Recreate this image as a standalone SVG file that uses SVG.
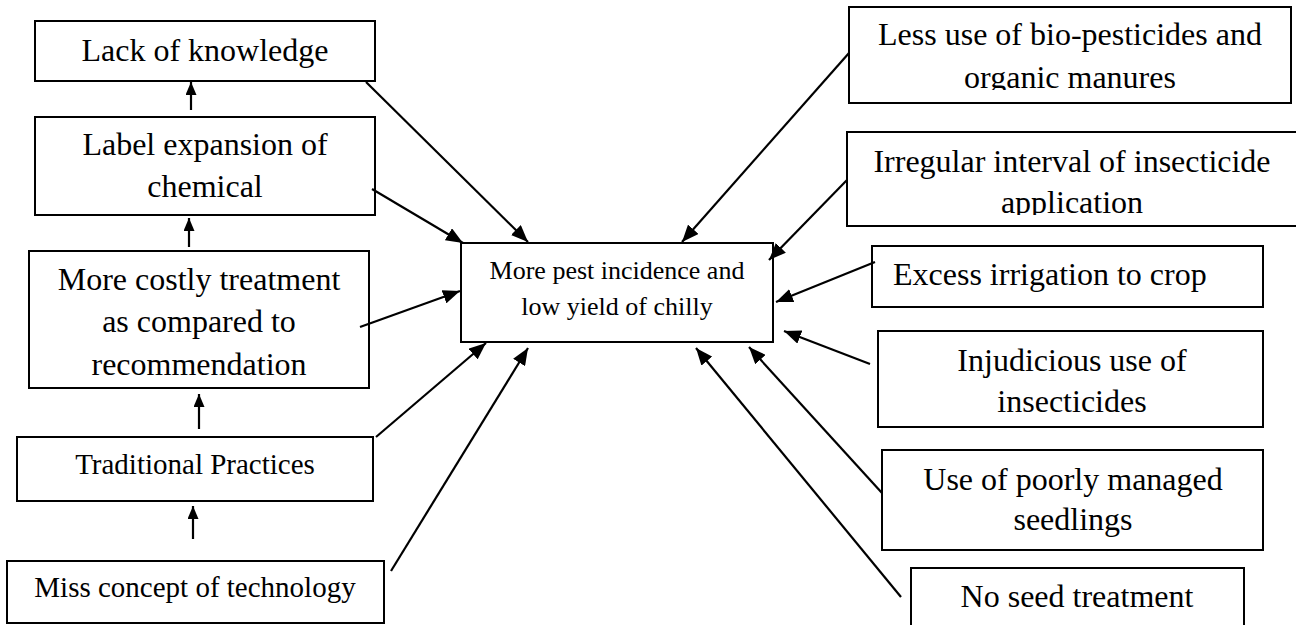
<svg xmlns="http://www.w3.org/2000/svg" width="1296" height="625" viewBox="0 0 1296 625">
<style>
  .box { fill: #fff; stroke: #000; stroke-width: 2; }
  .t { font-family: "Liberation Serif", "Times New Roman", serif; font-size: 32px; fill: #000; text-anchor: middle; }
  .s29 { font-size: 29px; }
  .s26 { font-size: 26px; }
  .c line { stroke: #000; stroke-width: 2.2; marker-end: url(#ah); }
  .c line.up { marker-end: url(#ahs); }
</style>
<defs>
  <marker id="ah" markerUnits="userSpaceOnUse" markerWidth="17" markerHeight="14" viewBox="0 0 17 14" refX="17" refY="7" orient="auto">
    <path d="M0,0 L17,7 L0,14 z" fill="#000"/>
  </marker>
  <marker id="ahs" markerUnits="userSpaceOnUse" markerWidth="13" markerHeight="11" viewBox="0 0 13 11" refX="13" refY="5.5" orient="auto">
    <path d="M0,0 L13,5.5 L0,11 z" fill="#000"/>
  </marker>
  <clipPath id="clip1"><rect x="849" y="7" width="442" height="83"/></clipPath>
  <clipPath id="clip2"><rect x="847" y="132" width="460" height="83"/></clipPath>
</defs>
<rect width="1296" height="625" fill="#fff"/>

<g id="n-lack">
  <rect class="box" x="35" y="21" width="340" height="60"/>
  <text class="t" x="205" y="61">Lack of knowledge</text>
</g>
<g id="n-label">
  <rect class="box" x="35" y="117" width="340" height="98"/>
  <text class="t" x="205" y="155">Label expansion of</text>
  <text class="t" x="205" y="197">chemical</text>
</g>
<g id="n-costly">
  <rect class="box" x="29" y="251" width="340" height="137"/>
  <text class="t" x="199" y="290">More costly treatment</text>
  <text class="t" x="199" y="332">as compared to</text>
  <text class="t" x="199" y="375">recommendation</text>
</g>
<g id="n-trad">
  <rect class="box" x="17" y="437" width="356" height="64"/>
  <text class="t s29" x="195" y="474">Traditional Practices</text>
</g>
<g id="n-miss">
  <rect class="box" x="7" y="561" width="377" height="62"/>
  <text class="t s29" x="195" y="597">Miss concept of technology</text>
</g>

<g id="n-center">
  <rect class="box" x="461" y="243" width="312" height="99"/>
  <text class="t s26" x="617" y="279">More pest incidence and</text>
  <text class="t s26" x="617" y="315">low yield of chilly</text>
</g>

<g id="n-less">
  <rect class="box" x="849" y="7" width="442" height="96"/>
  <g clip-path="url(#clip1)">
    <text class="t" x="1070" y="45">Less use of bio-pesticides and</text>
    <text class="t" x="1070" y="88">organic manures</text>
  </g>
</g>
<g id="n-irregular">
  <rect class="box" x="847" y="132" width="470" height="94"/>
  <g clip-path="url(#clip2)">
    <text class="t" x="1072" y="172">Irregular interval of insecticide</text>
    <text class="t" x="1072" y="213">application</text>
  </g>
</g>
<g id="n-excess">
  <rect class="box" x="872" y="246" width="391" height="61"/>
  <text class="t" x="893" y="285" style="text-anchor:start">Excess irrigation to crop</text>
</g>
<g id="n-injud">
  <rect class="box" x="878" y="331" width="385" height="96"/>
  <text class="t" x="1072" y="371">Injudicious use of</text>
  <text class="t" x="1072" y="412">insecticides</text>
</g>
<g id="n-poorly">
  <rect class="box" x="882" y="450" width="381" height="100"/>
  <text class="t" x="1073" y="490">Use of poorly managed</text>
  <text class="t" x="1073" y="530">seedlings</text>
</g>
<g id="n-noseed">
  <rect class="box" x="911" y="568" width="333" height="80"/>
  <text class="t" x="1077" y="607">No seed treatment</text>
</g>

<g id="connectors" class="c">
  <line class="up" x1="191" y1="110" x2="191" y2="82"/>
  <line class="up" x1="189" y1="247" x2="189" y2="218"/>
  <line class="up" x1="199" y1="429" x2="199" y2="394"/>
  <line class="up" x1="193" y1="539" x2="193" y2="506"/>

  <line x1="366" y1="82" x2="528" y2="242"/>
  <line x1="372" y1="189" x2="463" y2="243"/>
  <line x1="360" y1="327" x2="460" y2="291"/>
  <line x1="376" y1="437" x2="486" y2="343"/>
  <line x1="391" y1="571" x2="528" y2="348"/>

  <line x1="849" y1="53" x2="682" y2="242"/>
  <line x1="847" y1="180" x2="769" y2="260"/>
  <line x1="875" y1="262" x2="776" y2="302"/>
  <line x1="870" y1="364" x2="784" y2="331"/>
  <line x1="882" y1="493" x2="749" y2="347"/>
  <line x1="901" y1="597" x2="696" y2="348"/>
</g>
</svg>
